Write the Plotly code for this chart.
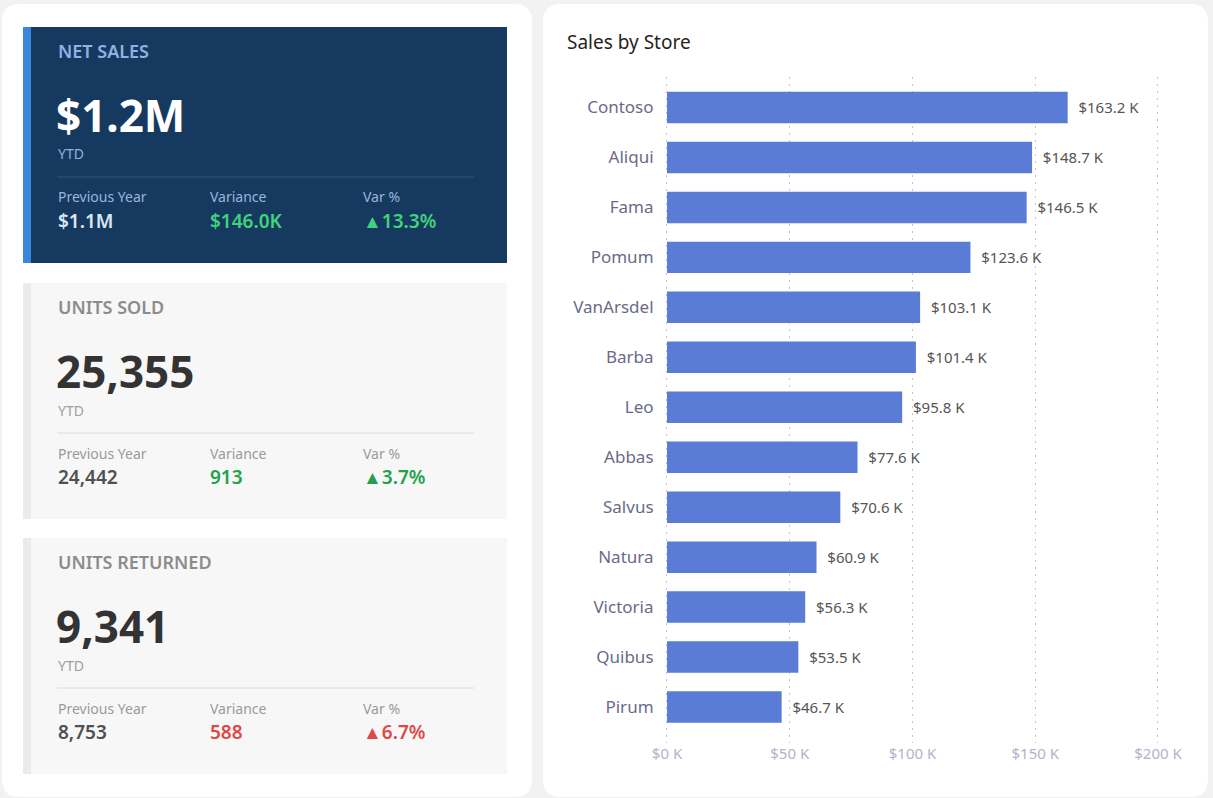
import plotly.graph_objects as go

W, H = 1213, 798

# ---------------- data ----------------
stores = ["Contoso", "Aliqui", "Fama", "Pomum", "VanArsdel", "Barba", "Leo",
          "Abbas", "Salvus", "Natura", "Victoria", "Quibus", "Pirum"]
sales_k = [163.2, 148.7, 146.5, 123.6, 103.1, 101.4, 95.8,
           77.6, 70.6, 60.9, 56.3, 53.5, 46.7]
x_tick_vals = [0, 50, 100, 150, 200]
x_tick_text = ["$0 K", "$50 K", "$100 K", "$150 K", "$200 K"]

kpi_titles = ["NET SALES", "UNITS SOLD", "UNITS RETURNED"]
kpi_values = ["$1.2M", "25,355", "9,341"]
kpi_prev = ["$1.1M", "24,442", "8,753"]
kpi_var = ["$146.0K", "913", "588"]
kpi_varpct = ["▲13.3%", "▲3.7%", "▲6.7%"]
kpi_good = [True, True, False]

FONT = "Segoe UI, Noto Sans, sans-serif"


def px(x):
    return x / W


def py(y):
    return 1 - y / H


def rrect(x0, y0, x1, y1, r):
    pts = [
        f"M {px(x0 + r)},{py(y0)}",
        f"L {px(x1 - r)},{py(y0)}",
        f"Q {px(x1)},{py(y0)} {px(x1)},{py(y0 + r)}",
        f"L {px(x1)},{py(y1 - r)}",
        f"Q {px(x1)},{py(y1)} {px(x1 - r)},{py(y1)}",
        f"L {px(x0 + r)},{py(y1)}",
        f"Q {px(x0)},{py(y1)} {px(x0)},{py(y1 - r)}",
        f"L {px(x0)},{py(y0 + r)}",
        f"Q {px(x0)},{py(y0)} {px(x0 + r)},{py(y0)}",
        "Z",
    ]
    return " ".join(pts)


shapes = []
annotations = []

# page panels
for (x0, y0, x1, y1) in [(2, 4, 532, 797), (543, 4, 1208, 797)]:
    shapes.append(dict(type="path", path=rrect(x0, y0, x1, y1, 18), xref="paper", yref="paper",
                       fillcolor="#ffffff", line=dict(width=0), layer="below"))


def ann(text, x, y, size, color, weight=400):
    annotations.append(dict(text=text, x=px(x), y=py(y), xref="paper", yref="paper",
                            xanchor="left", yanchor="middle", showarrow=False,
                            font=dict(family=FONT, size=size, color=color, weight=weight)))


# KPI cards
card_tops = [27, 283, 538]
for i in range(3):
    top = card_tops[i]
    bottom = top + 236
    dark = i == 0
    shapes.append(dict(type="rect", xref="paper", yref="paper",
                       x0=px(23), x1=px(507), y0=py(bottom), y1=py(top),
                       fillcolor="#163a5f" if dark else "#f7f7f7", line=dict(width=0), layer="below"))
    shapes.append(dict(type="rect", xref="paper", yref="paper",
                       x0=px(23), x1=px(31), y0=py(bottom), y1=py(top),
                       fillcolor="#3a86d8" if dark else "#ebebeb", line=dict(width=0), layer="below"))
    shapes.append(dict(type="line", xref="paper", yref="paper",
                       x0=px(57), x1=px(474), y0=py(top + 150), y1=py(top + 150),
                       line=dict(color="#2f5479" if dark else "#dcdcdc", width=1)))

    title_c = "#8fb1e3" if dark else "#8c8c8c"
    value_c = "#ffffff" if dark else "#333333"
    sub_c = "#8fb1e3" if dark else "#a0a0a0"
    lab_c = "#9ab5df" if dark else "#9a9a9a"
    prev_c = "#dbe6f5" if dark else "#505050"
    if kpi_good[i]:
        var_c = "#3fd47c" if dark else "#22a04b"
    else:
        var_c = "#e04848"

    ann(kpi_titles[i], 56, top + 24, 18, title_c, 600)
    ann(kpi_values[i], 54, top + 88, 44, value_c, 700)
    ann("YTD", 56, top + 127, 14, sub_c)
    ann("Previous Year", 56, top + 170, 14, lab_c)
    ann("Variance", 208, top + 170, 14, lab_c)
    ann("Var %", 361, top + 170, 14, lab_c)
    ann(kpi_prev[i], 56, top + 194, 19, prev_c, 600)
    ann(kpi_var[i], 208, top + 194, 19, var_c, 600)
    ann(kpi_varpct[i], 361, top + 194, 19, var_c, 600)

# chart title
annotations.append(dict(text="Sales by Store", x=px(565), y=py(42), xref="paper", yref="paper",
                        xanchor="left", yanchor="middle", showarrow=False,
                        font=dict(family=FONT, size=19, color="#252423")))

bar = go.Bar(
    x=sales_k, y=stores, orientation="h",
    marker=dict(color="#5a7bd6", line=dict(width=0)),
    width=0.63,
    text=sales_k,
    texttemplate="\u00a0\u00a0$%{x:.1f} K",
    textposition="outside",
    outsidetextfont=dict(family=FONT, size=15, color="#555555"),
    cliponaxis=False,
    hoverinfo="skip",
)

# x range padded slightly so gridlines at 0 and 200 are drawn
x_lo, x_hi = -1.0, 201.0
ppu = (1158 - 667) / 200.0

fig = go.Figure(bar)
fig.update_layout(
    template="none",
    width=W, height=H,
    margin=dict(l=0, r=0, t=0, b=0, pad=0, autoexpand=False),
    paper_bgcolor="#f2f2f2",
    plot_bgcolor="rgba(0,0,0,0)",
    showlegend=False,
    shapes=shapes,
    annotations=annotations,
    xaxis=dict(
        domain=[px(667 + x_lo * ppu), px(667 + x_hi * ppu)],
        range=[x_lo, x_hi],
        automargin=False,
        tickvals=x_tick_vals, ticktext=x_tick_text,
        showgrid=True, gridcolor="#c4c4c4", griddash="2px,5px", gridwidth=1,
        zeroline=False, showline=False, ticks="",
        tickfont=dict(family=FONT, size=15, color="#b4b2c8"),
        fixedrange=True,
    ),
    yaxis=dict(
        domain=[py(743), py(77)],
        type="category",
        automargin=False,
        categoryorder="array", categoryarray=stores,
        range=[12.72, -0.61],
        showgrid=False, zeroline=False, showline=False, ticks="",
        ticklabelstandoff=10,
        tickfont=dict(family=FONT, size=17, color="#6b6a88"),
        fixedrange=True,
    ),
)

fig.write_html("out.html")
